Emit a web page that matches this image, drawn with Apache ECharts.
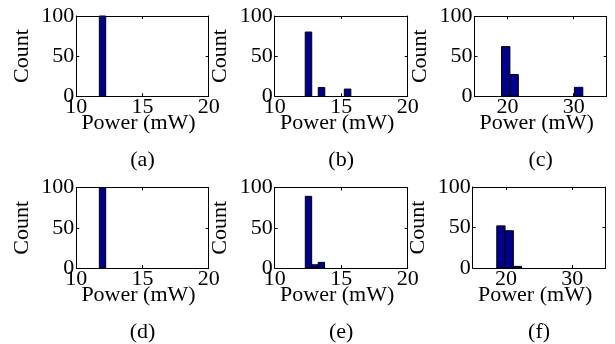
<!DOCTYPE html>
<html><head><meta charset="utf-8">
<script src="https://cdn.jsdelivr.net/npm/echarts@6/dist/echarts.min.js"></script>
<style>html,body{margin:0;padding:0;background:#fff}#c{width:615px;height:344px}</style>
</head><body><div id="c"></div>
<script>
// ---- data ----
const panelLabels = ['(a)', '(b)', '(c)', '(d)', '(e)', '(f)'];
const xAxisTitle = 'Power (mW)';
const yAxisTitle = 'Count';
const yTicks = [0, 50, 100];
const xTicksLow = [10, 15, 20];
const xTicksHigh = [20, 30];

const centersA = [11.98];
const countsA = [100];
const binWidthA = 0.48;

const centersB = [12.54, 13.52, 15.48];
const countsB = [80, 11, 9];
const binWidthB = 0.49;

const centersC = [19.72, 21.0, 30.75];
const countsC = [62, 27, 11];
const binWidthC = 1.27;

const centersD = [11.98];
const countsD = [100];
const binWidthD = 0.48;

const centersE = [12.54, 13.03, 13.51];
const countsE = [89, 4, 7];
const binWidthE = 0.48;

const centersF = [19.25, 20.5, 21.75];
const countsF = [52, 46, 2];
const binWidthF = 1.25;

// ---- layout ----
const panels = [
  {c: centersA, n: countsA, w: binWidthA, min: 10, max: 20, ticks: xTicksLow, left: 76.3, top: 16, width: 132.4, height: 80.3},
  {c: centersB, n: countsB, w: binWidthB, min: 10, max: 20, ticks: xTicksLow, left: 274.7, top: 16, width: 133, height: 80.3},
  {c: centersC, n: countsC, w: binWidthC, min: 15, max: 35, ticks: xTicksHigh, left: 474.5, top: 16.3, width: 132.2, height: 79.8},
  {c: centersD, n: countsD, w: binWidthD, min: 10, max: 20, ticks: xTicksLow, left: 76.3, top: 187.5, width: 132.4, height: 80.5},
  {c: centersE, n: countsE, w: binWidthE, min: 10, max: 20, ticks: xTicksLow, left: 274.7, top: 187.5, width: 133, height: 80.5},
  {c: centersF, n: countsF, w: binWidthF, min: 15, max: 35, ticks: xTicksHigh, left: 472.7, top: 187, width: 132.8, height: 81}
];

const FONT = "Liberation Serif, Tinos, Times New Roman, DejaVu Serif, serif";
const FS = 22;
const BAR = '#00008F';

const grid = [], xAxis = [], yAxis = [], series = [], graphic = [];
panels.forEach((p, i) => {
  grid.push({left: p.left, top: p.top, width: p.width, height: p.height, containLabel: false});
  const tickStyle = {show: true, inside: true, length: 3, lineStyle: {color: '#000', width: 1}};
  xAxis.push({
    type: 'value', gridIndex: i, min: p.min, max: p.max, position: 'bottom',
    axisLine: {show: true, onZero: false, lineStyle: {color: '#000', width: 1}},
    axisTick: Object.assign({customValues: p.ticks}, tickStyle),
    axisLabel: {customValues: p.ticks, color: '#000', fontFamily: FONT, fontSize: FS, margin: 0, showMinLabel: true, showMaxLabel: true},
    splitLine: {show: false}
  });
  xAxis.push({
    type: 'value', gridIndex: i, min: p.min, max: p.max, position: 'top',
    axisLine: {show: true, onZero: false, lineStyle: {color: '#000', width: 1}},
    axisTick: Object.assign({customValues: p.ticks}, tickStyle),
    axisLabel: {show: false}, splitLine: {show: false}
  });
  yAxis.push({
    type: 'value', gridIndex: i, min: 0, max: 100, interval: 50, position: 'left',
    axisLine: {show: true, onZero: false, lineStyle: {color: '#000', width: 1}},
    axisTick: tickStyle,
    axisLabel: {color: '#000', fontFamily: FONT, fontSize: FS, margin: 2, showMinLabel: true, showMaxLabel: true},
    splitLine: {show: false}
  });
  yAxis.push({
    type: 'value', gridIndex: i, min: 0, max: 100, interval: 50, position: 'right',
    axisLine: {show: true, onZero: false, lineStyle: {color: '#000', width: 1}},
    axisTick: tickStyle, axisLabel: {show: false}, splitLine: {show: false}
  });
  series.push({
    type: 'custom', xAxisIndex: 2 * i, yAxisIndex: 2 * i, silent: true, clip: false,
    data: p.c.map((x, k) => [x, p.n[k], p.w]),
    renderItem: function (params, api) {
      const x = api.value(0), y = api.value(1), w = api.value(2);
      const a = api.coord([x - w / 2, y]);
      const b = api.coord([x + w / 2, 0]);
      return {type: 'rect', shape: {x: a[0], y: a[1], width: b[0] - a[0], height: b[1] - a[1]},
        style: {fill: BAR, stroke: '#000', lineWidth: 1}};
    }
  });
  const cx = p.left + p.width / 2;
  const cy = p.top + p.height / 2;
  const txt = (t) => ({text: t, fill: '#000', fontFamily: FONT, fontSize: FS, align: 'center', verticalAlign: 'middle'});
  graphic.push({type: 'text', x: cx - 4, y: p.top + p.height + 27, style: txt(xAxisTitle)});
  graphic.push({type: 'text', x: cx, y: p.top + p.height + 64, style: txt(panelLabels[i])});
  graphic.push({type: 'text', x: p.left - 54, y: cy, rotation: Math.PI / 2, style: txt(yAxisTitle)});
});

const chart = echarts.init(document.getElementById('c'), null, {renderer: 'canvas'});
chart.setOption({animation: false, backgroundColor: '#fff', grid, xAxis, yAxis, series, graphic});
</script></body></html>
